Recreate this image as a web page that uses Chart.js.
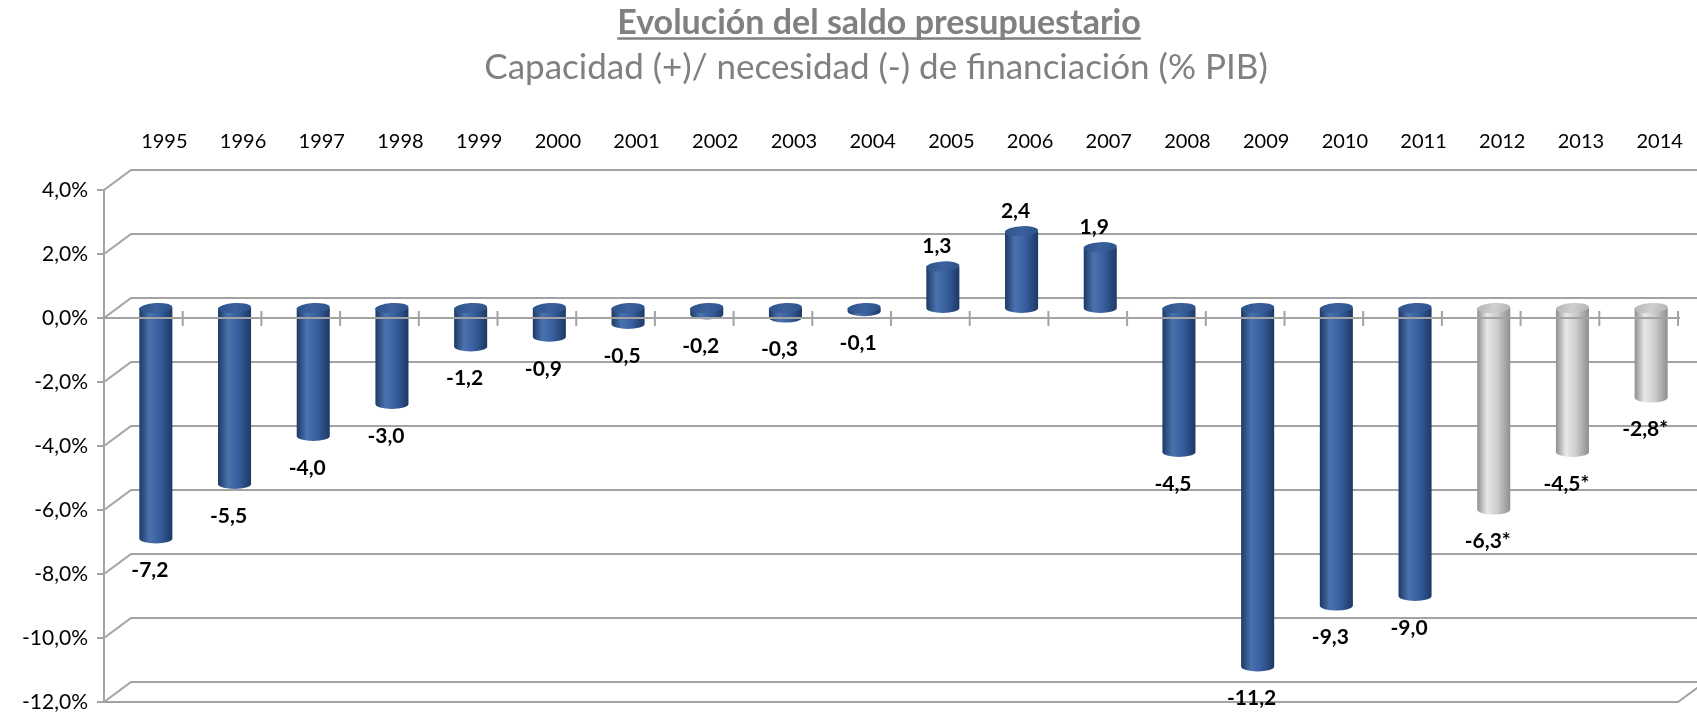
<!DOCTYPE html>
<html lang="es">
<head>
<meta charset="utf-8">
<title>Evolución del saldo presupuestario</title>
<script src="https://cdn.jsdelivr.net/npm/chart.js@4.4.1/dist/chart.umd.min.js"></script>
<style>
  html, body { margin: 0; padding: 0; background: #fff; overflow: hidden; }
  #wrap { width: 1697px; height: 713px; position: relative; }
</style>
</head>
<body>
<div id="wrap"><canvas id="saldoChart"></canvas></div>
<script>
// Datos: capacidad (+) / necesidad (-) de financiación, % PIB
const anios = ['1995', '1996', '1997', '1998', '1999', '2000', '2001', '2002', '2003', '2004',
               '2005', '2006', '2007', '2008', '2009', '2010', '2011', '2012', '2013', '2014'];
const saldo = [-7.2, -5.5, -4.0, -3.0, -1.2, -0.9, -0.5, -0.2, -0.3, -0.1,
               1.3, 2.4, 1.9, -4.5, -11.2, -9.3, -9.0, -6.3, -4.5, -2.8];
// años con previsión (se marcan con * y en gris)
const prevision = [false, false, false, false, false, false, false, false, false, false,
                   false, false, false, false, false, false, false, true, true, true];
const ejeMin = -12;
const ejeMax = 4;
const ejePaso = 2;

const titulo = 'Evolución del saldo presupuestario';
const subtitulo = 'Capacidad (+)/ necesidad (-) de financiación (% PIB)';

const fmt = v => v.toFixed(1).replace('.', ',');

// colores de los cilindros
const azul = { edge: '#1d3965', light: '#4a72ae', mid: '#3860a0', cap: '#2c5189', capHi: '#3a629c' };
const gris = { edge: '#8f8f8f', light: '#e8e8e8', mid: '#cdcdcd', cap: '#b3b3b3', capHi: '#cfcfcf' };

// desplazamientos de la "profundidad" 3D
const fondo = { dx: 27, dy: -20 };   // pared del fondo
const medio = { dx: 12.5, dy: -10 }; // plano de las barras
const colorRejilla = '#a3a3a3';

function cilindro(ctx, cx, yTop, yBot, w, pal) {
    const ry = 5;
    const l = cx - w / 2, r = cx + w / 2;
    const g = ctx.createLinearGradient(l, 0, r, 0);
    g.addColorStop(0, pal.edge);
    g.addColorStop(0.3, pal.light);
    g.addColorStop(0.6, pal.mid);
    g.addColorStop(1, pal.edge);
    ctx.fillStyle = g;
    ctx.beginPath();
    ctx.moveTo(l, yTop);
    ctx.lineTo(l, yBot);
    ctx.ellipse(cx, yBot, w / 2, ry, 0, Math.PI, 0, true);
    ctx.lineTo(r, yTop);
    ctx.closePath();
    ctx.fill();
    // tapa superior
    const gc = ctx.createLinearGradient(l, yTop - ry, r, yTop + ry);
    gc.addColorStop(0, pal.cap);
    gc.addColorStop(0.5, pal.capHi);
    gc.addColorStop(1, pal.cap);
    ctx.fillStyle = gc;
    ctx.beginPath();
    ctx.ellipse(cx, yTop, w / 2, ry, -0.06, 0, Math.PI * 2);
    ctx.fill();
}

// Plugin: títulos, marco 3D, cilindros y etiquetas
const marco3D = {
    id: 'marco3D',
    beforeDatasetsDraw(chart) {
        const ctx = chart.ctx;
        const y = chart.scales.y;
        const area = chart.chartArea;
        ctx.save();
        ctx.strokeStyle = colorRejilla;
        ctx.lineWidth = 2;
        for (let v = ejeMin; v <= ejeMax; v += ejePaso) {
            const py = y.getPixelForValue(v);
            ctx.beginPath();
            ctx.moveTo(area.left, py);
            ctx.lineTo(area.left + fondo.dx, py + fondo.dy);
            ctx.lineTo(chart.width + 5, py + fondo.dy);
            ctx.stroke();
        }
        ctx.restore();
    },
    afterDatasetsDraw(chart) {
        const ctx = chart.ctx;
        const y = chart.scales.y;
        const area = chart.chartArea;
        const meta = chart.getDatasetMeta(0);

        // cilindros
        meta.data.forEach((el, i) => {
            const top = Math.min(el.y, el.base) + medio.dy;
            const bot = Math.max(el.y, el.base) + medio.dy;
            cilindro(ctx, el.x + medio.dx, top, bot, el.width, prevision[i] ? gris : azul);
        });

        ctx.save();
        ctx.strokeStyle = colorRejilla;
        ctx.lineWidth = 2;
        // eje vertical frontal y marcas
        const yT = y.getPixelForValue(ejeMax), yB = y.getPixelForValue(ejeMin);
        ctx.beginPath();
        ctx.moveTo(area.left, yT);
        ctx.lineTo(area.left, yB);
        for (let v = ejeMin; v <= ejeMax; v += ejePaso) {
            const py = y.getPixelForValue(v);
            ctx.moveTo(area.left - 7, py);
            ctx.lineTo(area.left, py);
        }
        // borde frontal del suelo
        ctx.moveTo(area.left, yB);
        ctx.lineTo(area.right, yB);
        ctx.lineTo(area.right + fondo.dx, yB + fondo.dy);
        // línea de cero con marcas de categoría
        const y0 = y.getPixelForValue(0);
        ctx.moveTo(area.left, y0);
        ctx.lineTo(area.right + 2, y0);
        for (let i = 1; i <= anios.length; i++) {
            const px = area.left + i * (area.right - area.left) / anios.length;
            ctx.moveTo(px, y0 - 7);
            ctx.lineTo(px, y0 + 8);
        }
        ctx.stroke();

        // etiquetas de datos
        ctx.fillStyle = '#000';
        ctx.font = 'bold 21px Lato';
        ctx.textAlign = 'center';
        ctx.textBaseline = 'middle';
        meta.data.forEach((el, i) => {
            const v = saldo[i];
            const txt = fmt(v) + (prevision[i] ? '*' : '');
            const cx = el.x + medio.dx - 6;
            if (v >= 0) {
                ctx.fillText(txt, cx, Math.min(el.y, el.base) + medio.dy - 20);
            } else {
                ctx.fillText(txt, cx, Math.max(el.y, el.base) + medio.dy + 32);
            }
        });
        ctx.restore();
    },
    afterDraw(chart) {
        const ctx = chart.ctx;
        ctx.save();
        ctx.fillStyle = '#808080';
        ctx.textAlign = 'center';
        ctx.textBaseline = 'middle';
        // título subrayado
        ctx.font = 'bold 34px Lato';
        ctx.fillText(titulo, 879, 23);
        const w = ctx.measureText(titulo).width;
        ctx.strokeStyle = '#808080';
        ctx.lineWidth = 2.5;
        ctx.beginPath();
        ctx.moveTo(879 - w / 2, 38.5);
        ctx.lineTo(879 + w / 2, 38.5);
        ctx.stroke();
        // subtítulo
        ctx.font = '35px Lato';
        ctx.fillText(subtitulo, 876, 68);
        ctx.restore();
    }
};

const ctx = document.getElementById('saldoChart').getContext('2d');
new Chart(ctx, {
    type: 'bar',
    data: {
        labels: anios,
        datasets: [{
            label: 'Saldo presupuestario (% PIB)',
            data: saldo,
            backgroundColor: 'rgba(0,0,0,0)',
            borderWidth: 0,
            barPercentage: 0.42,
            categoryPercentage: 1
        }]
    },
    options: {
        responsive: true,
        maintainAspectRatio: false,
        animation: false,
        layout: { padding: { left: 0, right: 19, top: 0, bottom: 11 } },
        scales: {
            x: {
                position: 'top',
                grid: { display: false },
                border: { display: false },
                ticks: {
                    color: '#000',
                    font: { family: 'Lato', size: 20 },
                    padding: 28,
                    labelOffset: 21,
                    autoSkip: false,
                    maxRotation: 0
                },
                afterFit(scale) {
                    scale.height = 190;
                    scale.paddingLeft = 0;
                    scale.paddingRight = 0;
                }
            },
            y: {
                min: ejeMin,
                max: ejeMax,
                grid: { display: false },
                border: { display: false },
                ticks: {
                    stepSize: ejePaso,
                    color: '#000',
                    font: { family: 'Lato', size: 21 },
                    padding: 8,
                    callback: v => fmt(v) + '%'
                },
                afterFit(scale) {
                    scale.width = 104;
                    scale.paddingTop = 0;
                    scale.paddingBottom = 0;
                }
            }
        },
        plugins: {
            legend: { display: false },
            tooltip: { enabled: false },
            title: { display: false },
            subtitle: { display: false }
        }
    },
    plugins: [marco3D]
});
</script>
</body>
</html>
